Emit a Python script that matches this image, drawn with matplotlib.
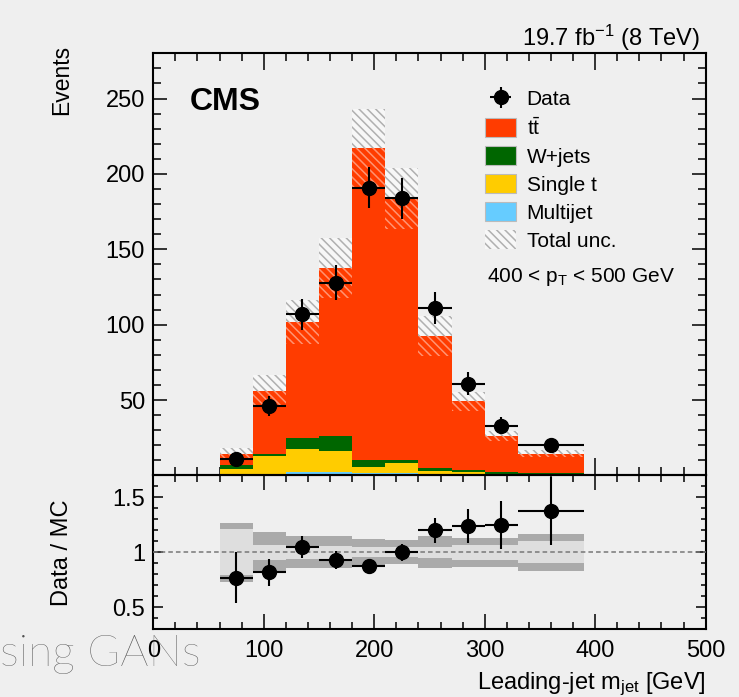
import numpy as np
import matplotlib
matplotlib.use("Agg")
import matplotlib.pyplot as plt
from matplotlib.patches import Patch
from matplotlib.ticker import MultipleLocator

plt.rcParams["font.family"] = ["Liberation Sans", "DejaVu Sans"]
plt.rcParams["mathtext.fontset"] = "custom"
plt.rcParams["mathtext.rm"] = "Liberation Sans"
plt.rcParams["mathtext.it"] = "Liberation Sans:italic"
plt.rcParams["hatch.linewidth"] = 1.1

# --------------------------------------------------
# HISTOGRAM CONTENTS (leading-jet mass, 400 < pT < 500 GeV)
# --------------------------------------------------
bin_edges = [30, 60, 90, 120, 150, 180, 210, 240, 270, 300, 330, 390, 450]

ttbar    = [0.8, 7.3, 41.9, 77.3, 111.2, 206.6, 173.6, 87.8, 45.6, 24.0, 13.0, 0.8]
wjets    = [0.0, 2.9, 1.3, 7.2, 9.9, 5.0, 2.3, 1.5, 1.1, 1.1, 1.0, 0.1]
single_t = [0.1, 3.3, 11.9, 14.9, 14.0, 3.9, 6.6, 2.2, 1.7, 1.0, 0.3, 0.0]
multijet = [0.0, 0.8, 1.0, 2.5, 2.5, 1.5, 1.5, 1.0, 0.8, 0.3, 0.2, 0.0]

# relative total uncertainty per bin
total_unc_rel = [0.35, 0.27, 0.185, 0.145, 0.145, 0.12, 0.11, 0.145, 0.13, 0.13, 0.165, 0.35]
# light inner band in the ratio panel (bins with data only)
inner_unc_rel = [0.21, 0.065, 0.06, 0.06, 0.045, 0.045, 0.05, 0.07, 0.07, 0.10]

# data, only filled bins (60 .. 390 GeV)
data_x    = [75, 105, 135, 165, 195, 225, 255, 285, 315, 360]
data_xerr = [15, 15, 15, 15, 15, 15, 15, 15, 15, 30]
data_y    = [11, 46, 107, 128, 191, 184, 111, 61, 33, 20]
data_yerr = [3.3, 6.8, 10.3, 11.3, 13.8, 13.6, 10.5, 7.8, 5.7, 4.5]

c_tt = "#ff3c00"
c_w = "#006600"
c_st = "#ffcc00"
c_mj = "#66ccff"
bg = "#efefef"
hatch = "\\\\\\\\"

# --------------------------------------------------
# DERIVED ARRAYS
# --------------------------------------------------
edges = np.array(bin_edges, dtype=float)
widths = np.diff(edges)
lefts = edges[:-1]
stack = [np.array(multijet), np.array(single_t), np.array(wjets), np.array(ttbar)]
colors = [c_mj, c_st, c_w, c_tt]
total = np.sum(stack, axis=0)
unc = np.array(total_unc_rel) * total

filled = slice(1, 11)
mc_filled = total[filled]
ratio = np.array(data_y) / mc_filled
ratio_err = np.array(data_yerr) / mc_filled

# --------------------------------------------------
# FIGURE
# --------------------------------------------------
fig = plt.figure(figsize=(7.39, 6.97), dpi=100, facecolor=bg)
ax = fig.add_axes([0.2074, 0.3178, 0.7475, 0.6057], facecolor="none")
rax = fig.add_axes([0.2074, 0.0971, 0.7475, 0.2207], facecolor="none", sharex=ax)

bottom = np.zeros_like(total)
for vals, col in zip(stack, colors):
    ax.bar(lefts, vals, width=widths, bottom=bottom, align="edge",
           color=col, linewidth=0, zorder=2)
    bottom = bottom + vals

# total uncertainty: grey hatch above the stack, light stripes over it
ax.bar(lefts, unc, width=widths, bottom=total, align="edge",
       facecolor="#f7f7f7", edgecolor="#b0b0b0", hatch=hatch,
       linewidth=0, zorder=3)
ax.bar(lefts, unc, width=widths, bottom=total - unc, align="edge",
       facecolor="none", edgecolor=(1, 1, 1, 0.45), hatch=hatch,
       linewidth=0, zorder=3)

data_eb = ax.errorbar(data_x, data_y, xerr=data_xerr, yerr=data_yerr, fmt="o",
                      color="black", markersize=10, elinewidth=1.5, capsize=0, zorder=5)

ax.set_xlim(0, 500)
ax.set_ylim(0, 280)

# ratio panel
rel_out = np.array(total_unc_rel)[filled]
rel_in = np.array(inner_unc_rel)
rax.bar(lefts[filled], 2 * rel_out, width=widths[filled], bottom=1 - rel_out,
        align="edge", color="#aaaaaa", linewidth=0, zorder=1)
rax.bar(lefts[filled], 2 * rel_in, width=widths[filled], bottom=1 - rel_in,
        align="edge", color="#dedede", linewidth=0, zorder=2)
rax.axhline(1, color="#777777", linestyle=(0, (3, 2)), linewidth=1.1, zorder=3)
rax.errorbar(data_x, ratio, xerr=data_xerr, yerr=ratio_err, fmt="o",
             color="black", markersize=10, elinewidth=1.5, capsize=0, zorder=5)
rax.set_ylim(0.3, 1.7)

# --------------------------------------------------
# AXES STYLE
# --------------------------------------------------
for a in (ax, rax):
    for sp in a.spines.values():
        sp.set_linewidth(1.5)
    a.tick_params(which="both", direction="in", top=True, right=True,
                  width=1.1, labelsize=17, pad=6)

ax.xaxis.set_major_locator(MultipleLocator(100))
ax.xaxis.set_minor_locator(MultipleLocator(20))
ax.yaxis.set_major_locator(MultipleLocator(50))
ax.yaxis.set_minor_locator(MultipleLocator(10))
ax.set_yticks([50, 100, 150, 200, 250])
ax.tick_params(axis="x", which="major", length=12)
ax.tick_params(axis="x", which="minor", length=6)
ax.tick_params(axis="y", which="major", length=10)
ax.tick_params(axis="y", which="minor", length=5.5)
ax.tick_params(axis="x", labelbottom=False)

rax.yaxis.set_major_locator(MultipleLocator(0.5))
rax.yaxis.set_minor_locator(MultipleLocator(0.1))
rax.set_yticks([0.5, 1, 1.5])
rax.set_yticklabels(["0.5", "1", "1.5"])
rax.tick_params(axis="x", which="major", length=11, pad=8)
rax.tick_params(axis="x", which="minor", length=5)
rax.tick_params(axis="y", which="major", length=7)
rax.tick_params(axis="y", which="minor", length=3.6)

ax.set_ylabel("Events", fontsize=16.5, loc="top")
ax.yaxis.set_label_coords(-0.145, 1.02)
rax.set_ylabel("Data / MC", fontsize=17)
rax.yaxis.set_label_coords(-0.145, 0.5)
rax.set_xlabel(r"Leading-jet m$_{\mathrm{jet}}$ [GeV]", fontsize=17, loc="right",
               labelpad=6)

# --------------------------------------------------
# LABELS AND LEGEND
# --------------------------------------------------
ax.text(0.066, 0.866, "CMS", transform=ax.transAxes, fontsize=23,
        fontweight="bold", va="baseline", ha="left")
fig.text(700 / 739, 1 - 46 / 697, r"19.7 fb$^{\mathrm{-1}}$ (8 TeV)",
         fontsize=17, ha="right", va="baseline")

handles = [
    data_eb,
    Patch(facecolor=c_tt, edgecolor="#bbbbbb", linewidth=0.8),
    Patch(facecolor=c_w, edgecolor="#bbbbbb", linewidth=0.8),
    Patch(facecolor=c_st, edgecolor="#bbbbbb", linewidth=0.8),
    Patch(facecolor=c_mj, edgecolor="#bbbbbb", linewidth=0.8),
    Patch(facecolor="#f7f7f7", edgecolor="#b0b0b0", hatch=hatch, linewidth=0),
]
labels = ["Data", r"t$\bar{\mathrm{t}}$", "W+jets", "Single t", "Multijet", "Total unc."]
fig.legend(handles, labels, loc="upper left", bbox_to_anchor=(485 / 739, 1 - 89 / 697),
           frameon=False, fontsize=15, handlelength=1.5, handleheight=1.0,
           handletextpad=0.5, labelspacing=0.36, borderpad=0, borderaxespad=0)
fig.text(487 / 739, 1 - 277 / 697, r"400 < p$_{\mathrm{T}}$ < 500 GeV",
         fontsize=15, ha="left", va="center")

# slide title fragment at the lower left
fig.text(0.0, 1 - 655 / 697, "sing GANs", fontsize=32, color="#505050",
         family=["Lato", "DejaVu Sans"], fontweight="light", ha="left", va="center")

fig.savefig("out.png", dpi=100, facecolor=bg)
